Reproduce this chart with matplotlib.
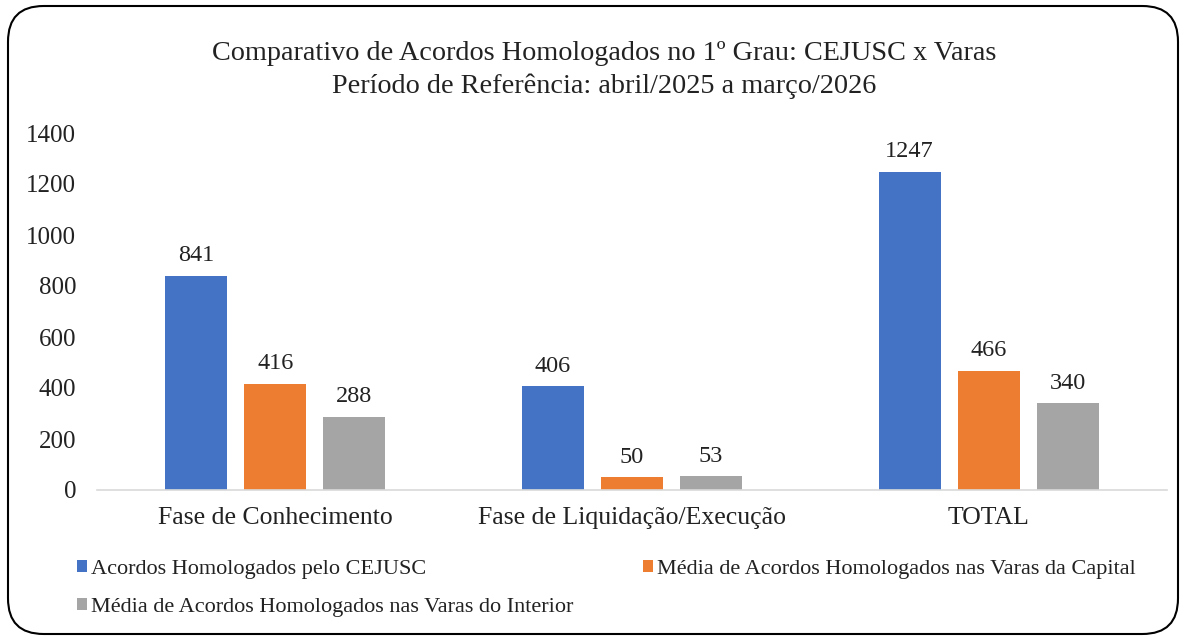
import matplotlib
matplotlib.use("Agg")
import matplotlib.pyplot as plt
from matplotlib.patches import FancyBboxPatch
import numpy as np

plt.rcParams['font.family'] = ['Liberation Serif', 'DejaVu Serif']

categories = ["Fase de Conhecimento", "Fase de Liquidação/Execução", "TOTAL"]
series_names = ["Acordos Homologados pelo CEJUSC",
                "Média de Acordos Homologados nas Varas da Capital",
                "Média de Acordos Homologados nas Varas do Interior"]
cejusc = [841, 406, 1247]
capital = [416, 50, 466]
interior = [288, 53, 340]
colors = ["#4472C4", "#ED7D31", "#A5A5A5"]
yticks = [0, 200, 400, 600, 800, 1000, 1200, 1400]

fig = plt.figure(figsize=(11.87, 6.4), dpi=100)
ax = fig.add_axes([97/1187, 150/640, (1167-97)/1187, (490-133)/640])

x = np.arange(len(categories))
width = 0.174
offset = 0.2215
bars = []
for i, (vals, c, name) in enumerate(zip([cejusc, capital, interior], colors, series_names)):
    b = ax.bar(x + (i - 1) * offset, vals, width, color=c, label=name)
    bars.append(b)
    for xi, v in zip(x + (i - 1) * offset, vals):
        ax.annotate(f"{v}", (xi, v), xytext=(0, 7), textcoords="offset points",
                    ha="center", va="bottom", fontsize=17.5, color="#222222")

ax.set_xlim(-0.5, 2.5)
ax.set_ylim(0, 1400)
ax.set_yticks(yticks)
ax.set_yticklabels([str(t) for t in yticks], fontsize=18, color="#222222")
ax.set_xticks(x)
ax.set_xticklabels(categories, fontsize=18.5, color="#222222")
ax.tick_params(axis="x", length=0, pad=12)
ax.tick_params(axis="y", length=0, pad=15)
for s in ["top", "right", "left"]:
    ax.spines[s].set_visible(False)
ax.spines["bottom"].set_color("#D9D9D9")
ax.spines["bottom"].set_linewidth(1.2)

fig.text(604/1187, 1 - 53/640, "Comparativo de Acordos Homologados no 1º Grau: CEJUSC x Varas",
         ha="center", va="center", fontsize=20.3, color="#222222")
fig.text(604/1187, 1 - 86/640, "Período de Referência: abril/2025 a março/2026",
         ha="center", va="center", fontsize=20.3, color="#222222")

handles = [bars[0], bars[2], bars[1]]
labels = [series_names[0], series_names[2], series_names[1]]
leg = fig.legend(handles, labels, ncol=2, loc="upper left",
                 bbox_to_anchor=(68/1187, 1 - 551/640), frameon=False,
                 fontsize=16, handlelength=0.45, handleheight=0.45,
                 handletextpad=0.2, columnspacing=3.1, labelspacing=0.85,
                 borderaxespad=0)
for t in leg.get_texts():
    t.set_color("#222222")

border = FancyBboxPatch((8/1187, 6/640), (1178-8)/1187, (634-6)/640,
                        boxstyle="round,pad=0,rounding_size=0.03",
                        transform=fig.transFigure, fill=False,
                        edgecolor="black", linewidth=1.5, mutation_aspect=1187/640)
fig.patches.append(border)

fig.savefig("out.png", dpi=100, facecolor="white")
